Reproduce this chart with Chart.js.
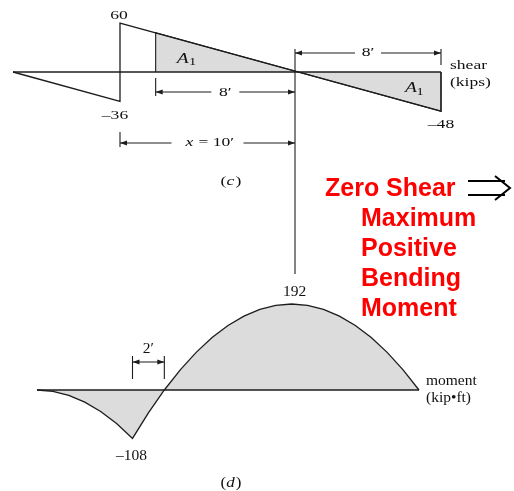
<!DOCTYPE html>
<html lang="en">
<head>
    <meta charset="UTF-8">
    <title>Shear and Moment Diagrams</title>
    <script src="https://cdn.jsdelivr.net/npm/chart.js"></script>
    <style>
        body { margin: 0; background: #fff; }
        #wrap { position: relative; width: 514px; height: 491px; }
        #diagram { position: absolute; left: 0; top: 0; }
        .red { position: absolute; color: #ff0000; font: bold 25px "Liberation Sans", Arial, sans-serif; line-height: 30px; white-space: nowrap; }
    </style>
</head>
<body>
<div id="wrap">
    <canvas id="diagram" width="514" height="491"></canvas>
    <div class="red" style="left:325px; top:172px;">Zero Shear</div>
    <div class="red" style="left:361px; top:202px;">Maximum<br>Positive<br>Bending<br>Moment</div>
</div>

<script>
    // shear diagram (c), kips vs distance along beam (ft)
    const shearX = [0, 6, 6, 24, 24];
    const shearV = [0, -36, 60, -48, 0];
    // shaded A1 areas
    const areaX = [8, 8, 16, 24, 24];
    const areaV = [0, 48, 0, -48, 0];
    // moment diagram (d), kip-ft
    const momentX = [0, 1, 2, 3, 4, 5, 6, 7, 8, 9, 10, 11, 12, 13, 14, 15, 16, 17, 18, 19, 20, 21, 22, 23, 24];
    const momentM = [0, -3, -12, -27, -48, -75, -108, -51, 0, 45, 84, 117, 144, 165, 180, 189, 192, 189, 180, 165, 144, 117, 84, 45, 0];
    const beamEnds = [0, 24];

    const W = 514, H = 491;
    const LINE = '#1c1c1c', FILL = '#dcdcdc', INK = '#111';

    // axis range so that value v0 lands on pixel p0 and v1 on p1
    function xRange(v0, p0, v1, p1) {
        const k = (p1 - p0) / (v1 - v0);
        const min = v0 - p0 / k;
        return { min: min, max: min + W / k };
    }
    function yRange(v0, p0, v1, p1) {
        const k = (p0 - p1) / (v1 - v0);
        const max = v0 + p0 / k;
        return { min: max - H / k, max: max };
    }

    const pts = (xs, ys) => xs.map((x, i) => ({ x: x, y: ys[i] }));

    // upper figure text is a bit stretched sideways, like the scan
    function text(ctx, str, x, y, opt) {
        opt = opt || {};
        ctx.save();
        ctx.translate(x, y);
        ctx.scale(opt.sx || 1.3, 1);
        ctx.font = (opt.italic ? 'italic ' : '') + (opt.size || 13.5) + 'px "Liberation Serif", "Times New Roman", serif';
        ctx.fillStyle = INK;
        ctx.textAlign = opt.align || 'center';
        ctx.textBaseline = 'middle';
        ctx.fillText(str, 0, 0);
        ctx.restore();
    }

    // "(c)" style label with italic letter, centred on x
    function caption(ctx, letter, x, y, size, sx) {
        ctx.save();
        ctx.font = size + 'px "Liberation Serif", serif';
        const wp = ctx.measureText('(').width;
        ctx.font = 'italic ' + size + 'px "Liberation Serif", serif';
        const wl = ctx.measureText(letter).width;
        ctx.restore();
        const total = (wp * 2 + wl + 1) * sx;
        let left = x - total / 2;
        text(ctx, '(', left, y, { size: size, sx: sx, align: 'left' });
        text(ctx, letter, left + wp * sx, y, { size: size, sx: sx, align: 'left', italic: true });
        text(ctx, ')', left + (wp + wl + 1) * sx, y, { size: size, sx: sx, align: 'left' });
    }

    function arrowHead(ctx, x, y, dir) {
        ctx.beginPath();
        ctx.moveTo(x, y);
        ctx.lineTo(x - dir * 7, y - 2.5);
        ctx.lineTo(x - dir * 7, y + 2.5);
        ctx.closePath();
        ctx.fill();
    }

    // |<---- label ---->|
    function dimension(ctx, x1, x2, y, gap) {
        const mid = (x1 + x2) / 2;
        ctx.beginPath();
        ctx.moveTo(x1, y); ctx.lineTo(mid - gap, y);
        ctx.moveTo(mid + gap, y); ctx.lineTo(x2, y);
        ctx.stroke();
        arrowHead(ctx, x1, y, -1);
        arrowHead(ctx, x2, y, 1);
    }

    function tick(ctx, x, y1, y2) {
        ctx.beginPath();
        ctx.moveTo(x, y1);
        ctx.lineTo(x, y2);
        ctx.stroke();
    }

    const notes = {
        id: 'notes',
        afterDatasetsDraw(chart) {
            const ctx = chart.ctx;
            const s = chart.scales;
            const px = v => s.x.getPixelForValue(v), py = v => s.y.getPixelForValue(v);
            const mx = v => s.x2.getPixelForValue(v), my = v => s.y2.getPixelForValue(v);
            const y0 = py(0), m0 = my(0);
            const zeroX = (px(16) + mx(16)) / 2;
            const mid = (a, b) => (a + b) / 2;

            ctx.save();
            ctx.strokeStyle = LINE;
            ctx.fillStyle = LINE;
            ctx.lineWidth = 1.1;

            // line from zero shear down to maximum moment
            tick(ctx, zeroX, y0 - 23, my(192) - 30);

            // dimension lines on the shear diagram
            tick(ctx, px(24), y0 - 23, y0 - 7);
            dimension(ctx, zeroX, px(24), y0 - 19, 13);
            tick(ctx, px(8), y0 + 6, y0 + 24);
            dimension(ctx, px(8), zeroX, y0 + 20, 14);
            tick(ctx, px(6), y0 + 60, y0 + 75);
            dimension(ctx, px(6), zeroX, y0 + 71, 36);

            // 2' on the moment diagram
            tick(ctx, mx(6), m0 - 34, m0 - 11);
            tick(ctx, mx(8), m0 - 34, m0 - 11);
            dimension(ctx, mx(6), mx(8), m0 - 28, 0);

            // double arrow after "Zero Shear"
            ctx.lineWidth = 2;
            ctx.strokeStyle = '#000';
            ctx.beginPath();
            ctx.moveTo(468, 181); ctx.lineTo(505, 181);
            ctx.moveTo(468, 195); ctx.lineTo(505, 195);
            ctx.moveTo(495, 176); ctx.lineTo(510, 188); ctx.lineTo(495, 200);
            ctx.stroke();
            ctx.restore();

            text(ctx, "8′", mid(zeroX, px(24)), y0 - 20);
            text(ctx, "8′", mid(px(8), zeroX), y0 + 20);
            const xm10 = mid(px(6), zeroX) + 4;
            text(ctx, "x", xm10 - 22, y0 + 70, { italic: true });
            text(ctx, "= 10′", xm10 - 13, y0 + 70, { align: 'left' });
            text(ctx, "2′", mid(mx(6), mx(8)), m0 - 41, { size: 15.5, sx: 1 });

            text(ctx, "60", px(6) - 1, py(60) - 8);
            text(ctx, "–36", px(6) - 5, py(-36) + 14);
            text(ctx, "–48", px(24), py(-48) + 13);
            text(ctx, "shear", px(24) + 9, y0 - 7, { align: 'left' });
            text(ctx, "(kips)", px(24) + 9, y0 + 10, { align: 'left' });

            text(ctx, "A", px(8) + 27, y0 - 13, { italic: true, size: 15 });
            text(ctx, "1", px(8) + 37, y0 - 10, { size: 11 });
            text(ctx, "A", px(24) - 30, y0 + 16, { italic: true, size: 15 });
            text(ctx, "1", px(24) - 21, y0 + 20, { size: 11 });
            caption(ctx, "c", 231, 181, 13.5, 1.3);

            text(ctx, "192", mx(16) + 3, my(192) - 12, { size: 15.5, sx: 1 });
            text(ctx, "–108", mx(6) - 1, my(-108) + 18, { size: 15.5, sx: 1 });
            text(ctx, "moment", mx(24) + 7, m0 - 9, { align: 'left', size: 15.5, sx: 1 });
            text(ctx, "(kip•ft)", mx(24) + 7, m0 + 8, { align: 'left', size: 15.5, sx: 1 });
            caption(ctx, "d", 231, 483, 15.5, 1.1);
        }
    };

    const line = (data, xAxis, yAxis, extra) => Object.assign({
        data: data,
        xAxisID: xAxis,
        yAxisID: yAxis,
        borderColor: LINE,
        borderWidth: 1.3,
        pointRadius: 0,
        tension: 0,
        fill: false
    }, extra || {});

    new Chart(document.getElementById('diagram'), {
        type: 'line',
        data: {
            datasets: [
                line(pts(shearX, shearV), 'x', 'y'),
                line(pts(beamEnds, [0, 0]), 'x', 'y'),
                line(pts(beamEnds, [0, 0]), 'x2', 'y2', { borderWidth: 1.6 }),
                line(pts(momentX, momentM), 'x2', 'y2', { fill: 'origin', backgroundColor: FILL }),
                line(pts(areaX, areaV), 'x', 'y', { fill: 'origin', backgroundColor: FILL, borderWidth: 1.1 })
            ]
        },
        options: {
            responsive: false,
            animation: false,
            layout: { padding: 0 },
            plugins: { legend: { display: false }, tooltip: { enabled: false } },
            scales: {
                x: Object.assign({ type: 'linear', display: false }, xRange(0, 13, 24, 441)),
                y: Object.assign({ type: 'linear', display: false }, yRange(0, 72, 60, 23)),
                x2: Object.assign({ type: 'linear', display: false, position: 'bottom' }, xRange(0, 37, 24, 419)),
                y2: Object.assign({ type: 'linear', display: false, position: 'left' }, yRange(0, 390, 192, 304))
            }
        },
        plugins: [notes]
    });
</script>
</body>
</html>
